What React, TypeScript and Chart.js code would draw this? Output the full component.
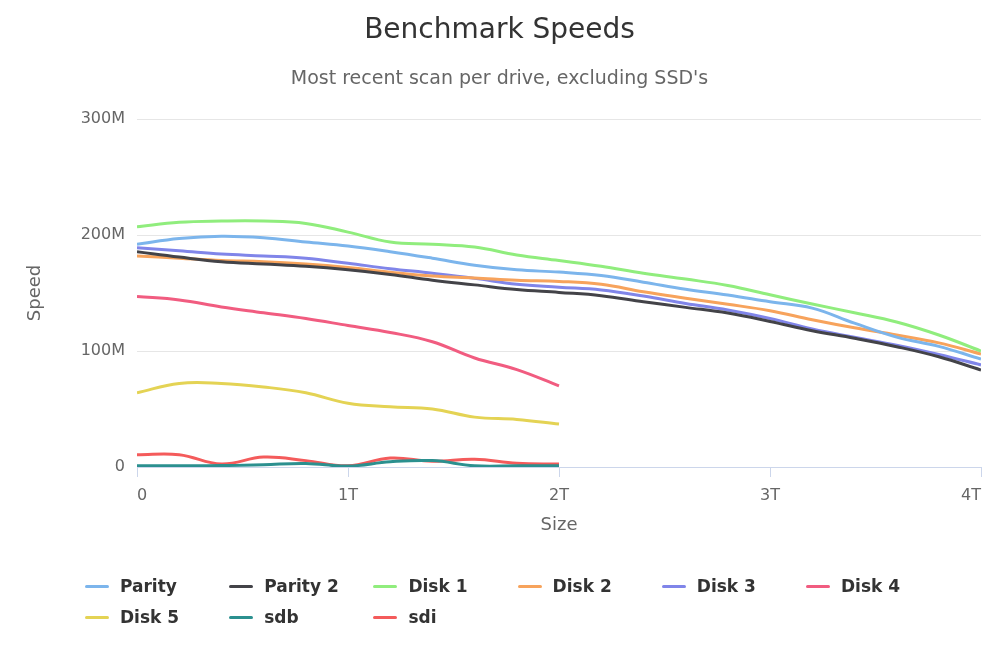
import React, { useEffect, useRef } from "react";
import { Chart, registerables } from "chart.js";

Chart.register(...registerables);

const FONT = "'DejaVu Sans', 'Lucida Grande', sans-serif";

// Sizes in TB
const sizes4T = [0, 0.2, 0.4, 0.6, 0.8, 1.0, 1.2, 1.4, 1.6, 1.8, 2.0, 2.2, 2.4, 2.6, 2.8, 3.0, 3.2, 3.4, 3.6, 3.8, 4.0];
const sizes2T = [0, 0.2, 0.4, 0.6, 0.8, 1.0, 1.2, 1.4, 1.6, 1.8, 2.0];

// Speeds in MB/s (M)
const parity = [192, 197, 199, 197.7, 194, 190.5, 185.6, 180, 174, 170, 168, 165, 159.3, 153.3, 148.3, 142.5, 137, 124, 112, 104, 93];
const parity2 = [185.6, 181, 177, 175, 173, 170, 166, 161, 157, 153, 150.5, 147.7, 142.5, 137.6, 132.7, 125.5, 117.5, 111, 103.7, 95, 83.6];
const disk1 = [207, 211, 212, 212, 210, 202.5, 194, 192, 189.6, 182.8, 178, 173, 167, 162, 156.5, 148.5, 140.5, 133, 125, 113.8, 100];
const disk2 = [182, 180, 178, 177, 175, 172, 168, 164.6, 163, 161, 160, 157.5, 151, 145.5, 140.3, 134.7, 127, 120, 113.8, 107, 97.4];
const disk3 = [189, 186.5, 183.6, 182, 180, 175.6, 171, 167, 162.6, 157.5, 155, 152.6, 147.4, 141, 135.3, 128, 119, 111.8, 105, 97, 88];
const disk4 = [147, 144, 138, 133, 128, 122, 116, 108, 94, 84, 70];
const disk5 = [64, 72, 72, 69, 64, 55, 52, 50, 43, 41, 37];
const sdb = [1, 1, 1.2, 2, 3, 0.8, 4.5, 5.5, 1, 1, 1];
const sdi = [10.6, 10.6, 2.6, 8.6, 5.5, 1, 7.7, 5, 6.6, 3.2, 2.6];

const xTicks = [0, 1, 2, 3, 4];
const xTickLabels = ["0", "1T", "2T", "3T", "4T"];
const yTickLabels: Record<number, string> = { 0: "0", 100: "100M", 200: "200M", 300: "300M" };

const seriesNames = ["Parity", "Parity 2", "Disk 1", "Disk 2", "Disk 3", "Disk 4", "Disk 5", "sdb", "sdi"];
const seriesColors = ["#7cb5ec", "#434348", "#90ed7d", "#f7a35c", "#8085e9", "#f15c80", "#e4d354", "#2b908f", "#f45b5b"];
const seriesValues = [parity, parity2, disk1, disk2, disk3, disk4, disk5, sdb, sdi];
const seriesSizes = [sizes4T, sizes4T, sizes4T, sizes4T, sizes4T, sizes2T, sizes2T, sizes2T, sizes2T];

export default function App() {
  const canvasRef = useRef<HTMLCanvasElement | null>(null);

  useEffect(() => {
    if (!canvasRef.current) return;
    const datasets = seriesNames.map((name, i) => ({
      label: name,
      data: seriesValues[i].map((v, j) => ({ x: seriesSizes[i][j], y: v })),
      borderColor: seriesColors[i],
      backgroundColor: seriesColors[i],
      borderWidth: 3,
      pointRadius: 0,
      tension: 0.4,
      fill: false,
    }));
    const chart = new Chart(canvasRef.current, {
      type: "line",
      data: { datasets },
      options: {
        animation: false,
        responsive: true,
        maintainAspectRatio: false,
        layout: { padding: { left: 18, right: 19, top: 0, bottom: 125 } },
        plugins: {
          legend: { display: false },
          tooltip: { enabled: false },
          title: {
            display: true,
            text: "Benchmark Speeds",
            color: "#333333",
            font: { family: FONT, size: 28, weight: "normal" },
            padding: { top: 14, bottom: 8 },
          },
          subtitle: {
            display: true,
            text: "Most recent scan per drive, excluding SSD's",
            color: "#666666",
            font: { family: FONT, size: 19, weight: "normal" },
            padding: { top: 12, bottom: 28.6 },
          },
        },
        scales: {
          x: {
            type: "linear",
            min: 0,
            max: 4,
            afterFit: (s: any) => {
              s.height = 75;
            },
            afterBuildTicks: (s: any) => {
              s.ticks = xTicks.map((v) => ({ value: v }));
            },
            ticks: {
              color: "#666666",
              font: { family: FONT, size: 16 },
              padding: 9,
              maxRotation: 0,
              align: "inner",
              callback: (v: any) => {
                const idx = xTicks.indexOf(Number(v));
                return idx >= 0 ? xTickLabels[idx] : "";
              },
            },
            grid: {
              drawOnChartArea: false,
              drawTicks: true,
              tickLength: 10,
              color: "#ccd6eb",
            },
            border: { display: true, color: "#ccd6eb", width: 1 },
            title: {
              display: true,
              text: "Size",
              color: "#666666",
              font: { family: FONT, size: 18 },
              padding: { top: 0, bottom: 6 },
            },
          },
          y: {
            type: "linear",
            min: 0,
            max: 300,
            afterFit: (s: any) => {
              s.width = 119;
            },
            ticks: {
              stepSize: 100,
              color: "#666666",
              font: { family: FONT, size: 16 },
              padding: 12,
              callback: (v: any) => yTickLabels[Number(v)] ?? "",
            },
            grid: { color: "#e6e6e6", drawTicks: false, lineWidth: 1 },
            border: { display: false },
            title: {
              display: true,
              text: "Speed",
              color: "#666666",
              font: { family: FONT, size: 18 },
              padding: { top: 7, bottom: 0 },
            },
          },
        },
      },
    });
    return () => chart.destroy();
  }, []);

  const colLeft = (i: number) => 85 + (i % 6) * 144.2;
  const rowY = (i: number) => (i < 6 ? 586 : 617);

  return (
    <div style={{ position: "fixed", left: 0, top: 0, width: 1000, height: 667, background: "#ffffff" }}>
      <canvas ref={canvasRef} style={{ display: "block" }} />
      {seriesNames.map((name, i) => (
        <div
          key={name}
          style={{
            position: "absolute",
            left: colLeft(i),
            top: rowY(i) - 12,
            height: 24,
            display: "flex",
            alignItems: "center",
            fontFamily: FONT,
            fontWeight: "bold",
            fontSize: 17,
            color: "#333333",
            whiteSpace: "nowrap",
          }}
        >
          <span
            style={{
              display: "inline-block",
              width: 24,
              height: 3,
              borderRadius: 1.5,
              background: seriesColors[i],
              marginRight: 11,
              marginTop: 1,
            }}
          />
          <span>{name}</span>
        </div>
      ))}
    </div>
  );
}
